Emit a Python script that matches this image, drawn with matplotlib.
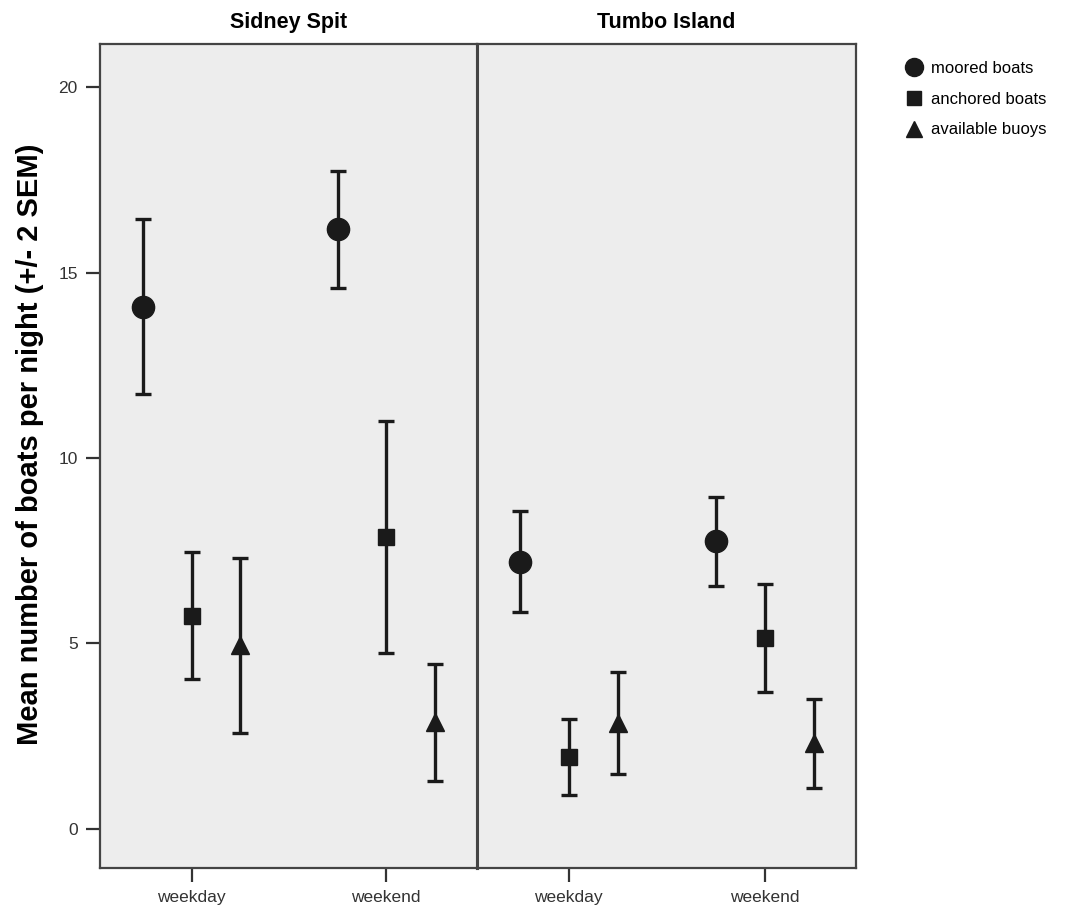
import matplotlib.pyplot as plt
from matplotlib.lines import Line2D
import numpy as np

plt.rcParams['font.family'] = ['Liberation Sans', 'DejaVu Sans']

sites = ['Sidney Spit', 'Tumbo Island']
days = ['weekday', 'weekend']
series = ['moored boats', 'anchored boats', 'available buoys']
markers = ['o', 's', '^']
msizes = [16, 11, 13]

# means per site: rows = series, cols = weekday/weekend
means = {
    'Sidney Spit': [[14.08, 16.17],
                    [5.75, 7.87],
                    [4.95, 2.87]],
    'Tumbo Island': [[7.20, 7.76],
                     [1.93, 5.15],
                     [2.85, 2.31]],
}
# 2 SEM half-widths
errs = {
    'Sidney Spit': [[2.36, 1.57],
                    [1.71, 3.12],
                    [2.36, 1.58]],
    'Tumbo Island': [[1.36, 1.20],
                     [1.03, 1.46],
                     [1.38, 1.20]],
}
offsets = [-0.25, 0.0, 0.25]

fig = plt.figure(figsize=(10.8, 9.16), dpi=100)
ax1 = fig.add_axes([0.0926, 0.0524, 0.3488, 0.8992])
ax2 = fig.add_axes([0.4414, 0.0524, 0.3512, 0.8992], sharey=ax1)

for ax, site in zip([ax1, ax2], sites):
    ax.set_facecolor('#ededed')
    x = np.arange(len(days))
    for i in range(len(series)):
        ax.errorbar(x + offsets[i], means[site][i], yerr=errs[site][i],
                    fmt=markers[i], ms=msizes[i], color='#1a1a1a',
                    ecolor='#1a1a1a', elinewidth=2.4, capsize=5.5,
                    capthick=2.4)
    ax.set_xlim(-0.47, 1.465)
    ax.set_xticks(x)
    ax.set_xticklabels(days, fontsize=12.5, color='#333333')
    ax.set_title(site, fontsize=15.5, fontweight='bold', pad=12)
    ax.tick_params(axis='x', length=10, width=1.6, color='#333333', pad=6)
    for sp in ax.spines.values():
        sp.set_color('#444444')
        sp.set_linewidth(1.6)

ax1.set_ylim(-1.06, 21.16)
ax1.set_yticks([0, 5, 10, 15, 20])
ax1.tick_params(axis='y', length=10, width=1.6, color='#333333',
                labelsize=12.5, labelcolor='#333333', pad=6)
ax2.tick_params(axis='y', left=False, labelleft=False)
ax1.spines['right'].set_linewidth(2.2)
ax2.spines['left'].set_linewidth(2.2)

fig.text(0.028, 0.515, 'Mean number of boats per night (+/- 2 SEM)',
         rotation=90, ha='center', va='center', fontsize=21,
         fontweight='bold')

handles = [Line2D([], [], linestyle='none', marker=m, color='#1a1a1a', ms=s)
           for m, s in zip(markers, [13, 10, 12])]
fig.legend(handles, series, loc='upper left', bbox_to_anchor=(0.825, 0.95),
           frameon=False, fontsize=12, handlelength=1.0, handletextpad=0.5,
           labelspacing=0.95)

fig.savefig('out.png', dpi=100)
